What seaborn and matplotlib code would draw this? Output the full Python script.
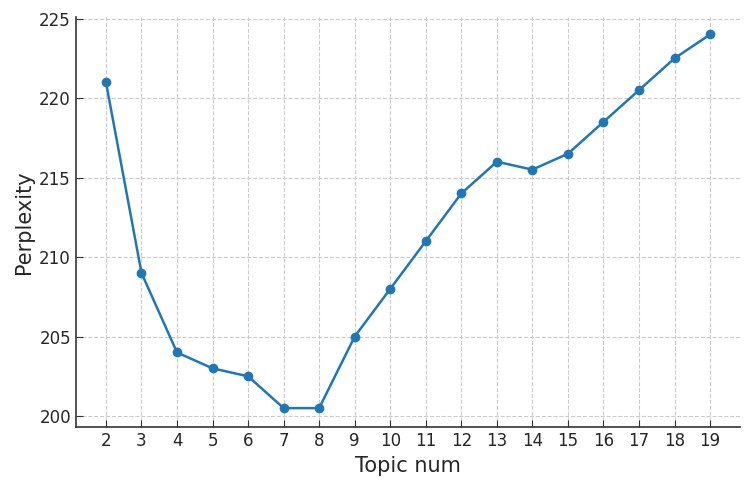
import matplotlib
matplotlib.use("Agg")
import matplotlib.pyplot as plt
import seaborn as sns
import pandas as pd

topics = [2, 3, 4, 5, 6, 7, 8, 9, 10, 11, 12, 13, 14, 15, 16, 17, 18, 19]
perplexity = [221, 209, 204, 203, 202.5, 200.5, 200.5, 205, 208, 211, 214, 216,
              215.5, 216.5, 218.5, 220.5, 222.5, 224]

df = pd.DataFrame({"Topic num": topics, "Perplexity": perplexity})

sns.set_style("ticks")
plt.rcParams["font.family"] = ["DejaVu Sans"]

fig, ax = plt.subplots(figsize=(7.5, 4.86), dpi=100)
sns.lineplot(data=df, x="Topic num", y="Perplexity", marker="o", color="#1f77b4",
             linewidth=1.8, markersize=7, markeredgewidth=0, ax=ax)

ax.set_xticks(topics)
ax.set_yticks([200, 205, 210, 215, 220, 225])
ax.set_ylim(199.3, 225.1)
ax.grid(True, linestyle="--", color="#cccccc", linewidth=0.8)
ax.set_axisbelow(True)
for s in ["top", "right"]:
    ax.spines[s].set_visible(False)
for s in ["left", "bottom"]:
    ax.spines[s].set_color("#333333")
    ax.spines[s].set_linewidth(1.2)
ax.tick_params(direction="in", labelsize=12, colors="#333333", labelcolor="#262626", length=5)
ax.set_xlabel("Topic num", fontsize=15, color="#262626")
ax.set_ylabel("Perplexity", fontsize=15, color="#262626")

fig.subplots_adjust(left=0.101, right=0.987, top=0.965, bottom=0.121)
fig.savefig("out.png", dpi=100)
